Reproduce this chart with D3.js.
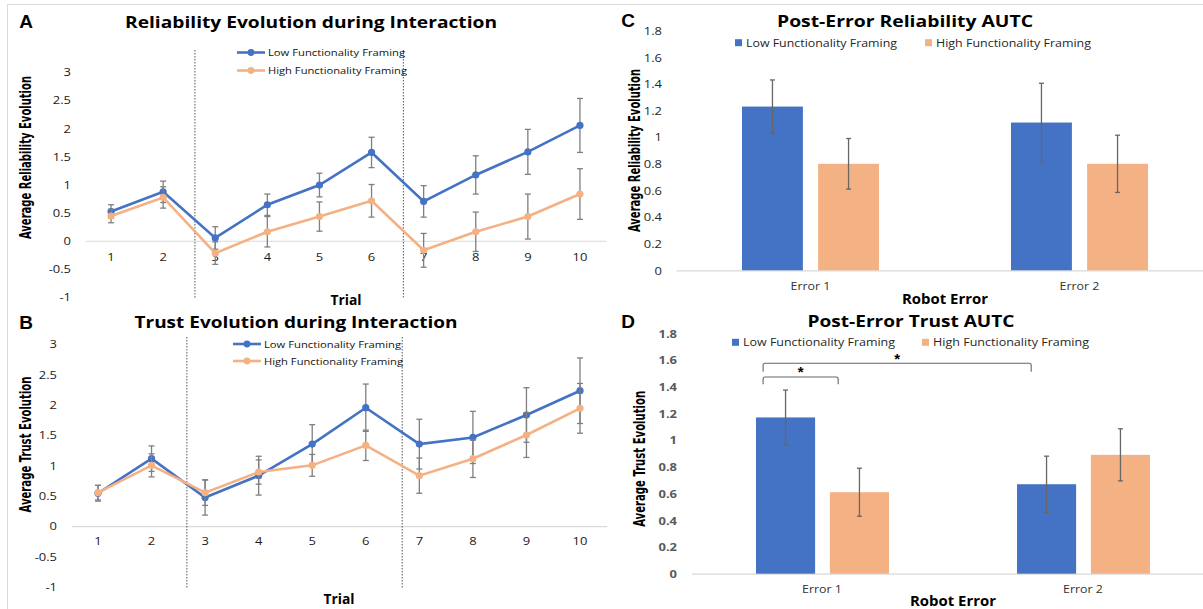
<!DOCTYPE html>
<html>
<head>
<meta charset="utf-8">
<script src="https://cdn.jsdelivr.net/npm/d3@7"></script>
<style>
  html, body { margin: 0; padding: 0; background: #fff; }
  svg { display: block; }
</style>
</head>
<body>
<svg id="chart" width="1203" height="609"></svg>
<script>
// ---------------- DATA ----------------
const trials = [1, 2, 3, 4, 5, 6, 7, 8, 9, 10];
const seriesNames = ["Low Functionality Framing", "High Functionality Framing"];
const lineTicks = [-1, -0.5, 0, 0.5, 1, 1.5, 2, 2.5, 3];
const barTicks = [0, 0.2, 0.4, 0.6, 0.8, 1, 1.2, 1.4, 1.6, 1.8];

// Panel A: reliability evolution
const relLow     = [0.52, 0.87, 0.05, 0.64, 0.99, 1.57, 0.70, 1.17, 1.58, 2.05];
const relLowErr  = [0.12, 0.19, 0.20, 0.19, 0.21, 0.27, 0.28, 0.34, 0.40, 0.48];
const relHigh    = [0.44, 0.77, -0.22, 0.16, 0.43, 0.71, -0.17, 0.16, 0.43, 0.83];
const relHighErr = [0.12, 0.19, 0.20, 0.27, 0.26, 0.29, 0.30, 0.35, 0.40, 0.45];
const relDividers = [2.61, 6.61];

// Panel B: trust evolution
const trustLow     = [0.54, 1.11, 0.47, 0.83, 1.35, 1.95, 1.35, 1.46, 1.83, 2.23];
const trustLowErr  = [0.13, 0.21, 0.29, 0.32, 0.32, 0.39, 0.41, 0.43, 0.45, 0.54];
const trustHigh    = [0.55, 1.00, 0.55, 0.89, 1.00, 1.33, 0.83, 1.11, 1.50, 1.94];
const trustHighErr = [0.12, 0.19, 0.21, 0.20, 0.18, 0.25, 0.29, 0.31, 0.37, 0.41];
const trustDividers = [2.66, 6.68];

// Panels C & D: post-error AUTC
const robotErrors = ["Error 1", "Error 2"];
const relAutcLow      = [1.23, 1.11];
const relAutcLowErr   = [0.20, 0.295];
const relAutcHigh     = [0.80, 0.80];
const relAutcHighErr  = [0.19, 0.215];
const trustAutcLow     = [1.17, 0.67];
const trustAutcLowErr  = [0.205, 0.21];
const trustAutcHigh    = [0.61, 0.89];
const trustAutcHighErr = [0.18, 0.195];
// significance brackets (panel D)
const sigBrackets = [
  { from: ["Error 1", 0], to: ["Error 1", 1], top: 1.473, leg: 1.419, label: "*" },
  { from: ["Error 1", 0], to: ["Error 2", 0], top: 1.576, leg: 1.513, label: "*" }
];

// ---------------- STYLE ----------------
const BLUE = "#4472C4", ORANGE = "#F4B183", ERR = "#7f7f7f", GRID = "#d9d9d9";
const FONT = "'Open Sans', 'Noto Sans', sans-serif";
const NARROW = "'Liberation Sans Narrow', 'DejaVu Sans Condensed', 'Liberation Sans', sans-serif";
const svg = d3.select("#chart");

// panel frame lines
svg.append("line").attr("x1", 7).attr("x2", 1203).attr("y1", 4.5).attr("y2", 4.5)
  .attr("stroke", GRID).attr("stroke-width", 1);
svg.append("line").attr("x1", 7.5).attr("x2", 7.5).attr("y1", 4.5).attr("y2", 609)
  .attr("stroke", GRID).attr("stroke-width", 1);

function text(g, x, y, str, opt) {
  const t = g.append("text").attr("x", x).attr("y", y).text(str)
    .attr("font-family", opt.family || FONT)
    .attr("font-size", opt.size)
    .attr("font-weight", opt.weight || "normal")
    .attr("fill", opt.fill || "#000")
    .attr("text-anchor", opt.anchor || "middle")
    .attr("dominant-baseline", "central");
  if (opt.len) t.attr("textLength", opt.len).attr("lengthAdjust", "spacingAndGlyphs");
  if (opt.rotate) t.attr("transform", `rotate(-90,${x},${y})`);
  return t;
}

// ---------------- LINE PANELS ----------------
function linePanel(cfg) {
  const g = svg.append("g");
  const x = d3.scaleBand().domain(trials).range(cfg.xRange).padding(0);
  const cx = d => x(d) + x.bandwidth() / 2;
  const xl = d3.scaleLinear().domain([1, 10]).range([cx(1), cx(10)]);
  const y = d3.scaleLinear().domain([-1, 3]).range(cfg.yRange);

  // y axis labels
  const ya = g.append("g").attr("transform", `translate(${cfg.yLabelX},0)`)
    .call(d3.axisLeft(y).tickValues(lineTicks).tickSize(0).tickPadding(0).tickFormat(d => String(d)));
  ya.select(".domain").remove();
  ya.selectAll("text").attr("font-family", FONT).attr("font-size", 10.8).attr("fill", "#1a1a1a")
    .attr("dy", "0.35em").attr("transform", "scale(1.2,1)");

  // x axis at zero
  const xa = g.append("g").attr("transform", `translate(0,${y(0)})`)
    .call(d3.axisBottom(x).tickSize(0).tickPadding(0));
  xa.select(".domain").attr("stroke", GRID).attr("stroke-width", 1.2);
  xa.selectAll("text").attr("font-family", FONT).attr("font-size", 10.8).attr("fill", "#1a1a1a")
    .attr("y", cfg.tickOffset).attr("dy", "0.35em").attr("transform", "scale(1.2,1)");

  // dividers
  g.selectAll("line.div").data(cfg.dividers).enter().append("line")
    .attr("x1", d => xl(d)).attr("x2", d => xl(d))
    .attr("y1", cfg.divY[0]).attr("y2", cfg.divY[1])
    .attr("stroke", "#555").attr("stroke-width", 1).attr("stroke-dasharray", "1.5,1.5");

  const series = [
    { vals: cfg.low, err: cfg.lowErr, color: BLUE },
    { vals: cfg.high, err: cfg.highErr, color: ORANGE }
  ];
  series.forEach(s => {
    const pts = trials.map((t, i) => ({ t, v: s.vals[i], e: s.err[i] }));
    const eg = g.append("g");
    eg.selectAll("line.v").data(pts).enter().append("line")
      .attr("x1", d => cx(d.t)).attr("x2", d => cx(d.t))
      .attr("y1", d => y(d.v - d.e)).attr("y2", d => y(d.v + d.e))
      .attr("stroke", ERR).attr("stroke-width", 1.3);
    ["-", "+"].forEach(sg => {
      eg.selectAll("line.c" + (sg === "+" ? "p" : "m")).data(pts).enter().append("line")
        .attr("x1", d => cx(d.t) - 3).attr("x2", d => cx(d.t) + 3)
        .attr("y1", d => y(sg === "+" ? d.v + d.e : d.v - d.e))
        .attr("y2", d => y(sg === "+" ? d.v + d.e : d.v - d.e))
        .attr("stroke", ERR).attr("stroke-width", 1.3);
    });
    g.append("path").datum(pts)
      .attr("d", d3.line().x(d => cx(d.t)).y(d => y(d.v)))
      .attr("fill", "none").attr("stroke", s.color).attr("stroke-width", 2.6);
    g.selectAll(null).data(pts).enter().append("circle")
      .attr("cx", d => cx(d.t)).attr("cy", d => y(d.v)).attr("r", 3.6).attr("fill", s.color);
  });

  // legend
  const lg = g.append("g");
  [BLUE, ORANGE].forEach((c, i) => {
    const ly = cfg.legend.y[i];
    lg.append("line").attr("x1", cfg.legend.x).attr("x2", cfg.legend.x + 28)
      .attr("y1", ly).attr("y2", ly).attr("stroke", c).attr("stroke-width", 2.6);
    lg.append("circle").attr("cx", cfg.legend.x + 14).attr("cy", ly).attr("r", 3.4).attr("fill", c);
    text(lg, cfg.legend.x + 31, ly, seriesNames[i], { size: 9.8, anchor: "start", fill: "#111", len: cfg.legend.len[i] });
  });

  // titles
  text(g, cfg.letter[0], cfg.letter[1], cfg.letterText, { size: 19, weight: "bold", family: "'Liberation Sans', Arial, sans-serif" });
  text(g, cfg.title.x, cfg.title.y, cfg.title.text, { size: 16.5, weight: "bold", len: cfg.title.len });
  text(g, cfg.ytitle.x, cfg.ytitle.y, cfg.ytitle.text, { size: 16, weight: "bold", family: NARROW, rotate: true, len: cfg.ytitle.len });
  text(g, cfg.xtitle.x, cfg.xtitle.y, "Trial", { size: 15, weight: "bold", len: 31 });
}

linePanel({
  xRange: [85, 606], yRange: [297, 72], yLabelX: 71, tickOffset: 16,
  dividers: relDividers, divY: [50, 299],
  low: relLow, lowErr: relLowErr, high: relHigh, highErr: relHighErr,
  legend: { x: 237, y: [52.5, 70.5], len: [137, 139] },
  letter: [26, 21], letterText: "A",
  title: { x: 311, y: 21, text: "Reliability Evolution during Interaction", len: 372 },
  ytitle: { x: 25, y: 157.5, text: "Average Reliability Evolution", len: 163 },
  xtitle: { x: 346, y: 299 }
});

linePanel({
  xRange: [71.2, 606.8], yRange: [586.7, 344], yLabelX: 57, tickOffset: 15.5,
  dividers: trustDividers, divY: [337, 588],
  low: trustLow, lowErr: trustLowErr, high: trustHigh, highErr: trustHighErr,
  legend: { x: 233, y: [344, 361], len: [137, 139] },
  letter: [26, 322], letterText: "B",
  title: { x: 296, y: 321, text: "Trust Evolution during Interaction", len: 323 },
  ytitle: { x: 25, y: 444.5, text: "Average Trust Evolution", len: 136 },
  xtitle: { x: 339, y: 597.5 }
});

// ---------------- BAR PANELS ----------------
function barPanel(cfg) {
  const g = svg.append("g");
  const x0 = d3.scaleBand().domain(robotErrors).range(cfg.xRange).padding(0);
  const x1 = d3.scaleBand().domain([0, 1]).range(cfg.innerRange).paddingInner(cfg.innerPad).paddingOuter(0);
  const y = d3.scaleLinear().domain([0, 1.8]).range(cfg.yRange);
  const gc = d => x0(d) + x0.bandwidth() / 2;

  const ya = g.append("g").attr("transform", `translate(${cfg.yLabelX},0)`)
    .call(d3.axisLeft(y).tickValues(barTicks).tickSize(0).tickPadding(0).tickFormat(d => String(+d.toFixed(1))));
  ya.select(".domain").remove();
  ya.selectAll("text").attr("font-family", FONT).attr("font-size", cfg.tickSize)
    .attr("font-weight", cfg.tickWeight).attr("fill", cfg.tickFill).attr("dy", "0.35em")
    .attr("transform", "scale(1.2,1)");

  const xa = g.append("g").attr("transform", `translate(0,${y(0)})`)
    .call(d3.axisBottom(x0).tickSize(0).tickPadding(0));
  xa.select(".domain").attr("stroke", GRID).attr("stroke-width", 1.2);
  xa.selectAll("text").attr("font-family", FONT).attr("font-size", 10.8).attr("fill", "#333")
    .attr("y", cfg.tickOffset).attr("dy", "0.35em").attr("transform", "scale(1.15,1)");

  const data = [];
  robotErrors.forEach((e, i) => {
    data.push({ e, s: 0, v: cfg.low[i], err: cfg.lowErr[i] });
    data.push({ e, s: 1, v: cfg.high[i], err: cfg.highErr[i] });
  });
  const bx = d => gc(d.e) + x1(d.s);
  g.selectAll("rect.bar").data(data).enter().append("rect")
    .attr("x", bx).attr("width", x1.bandwidth())
    .attr("y", d => y(d.v)).attr("height", d => y(0) - y(d.v))
    .attr("fill", d => d.s === 0 ? BLUE : ORANGE);
  const mid = d => bx(d) + x1.bandwidth() / 2;
  g.selectAll("line.ev").data(data).enter().append("line")
    .attr("x1", mid).attr("x2", mid)
    .attr("y1", d => y(d.v - d.err)).attr("y2", d => y(d.v + d.err))
    .attr("stroke", "#666").attr("stroke-width", 1.3);
  [1, -1].forEach(sg => {
    g.selectAll(null).data(data).enter().append("line")
      .attr("x1", d => mid(d) - 2.5).attr("x2", d => mid(d) + 2.5)
      .attr("y1", d => y(d.v + sg * d.err)).attr("y2", d => y(d.v + sg * d.err))
      .attr("stroke", "#666").attr("stroke-width", 1.3);
  });

  // legend
  [BLUE, ORANGE].forEach((c, i) => {
    const lx = cfg.legend.x[i];
    g.append("rect").attr("x", lx).attr("y", cfg.legend.y - 3.5).attr("width", 7).attr("height", 7).attr("fill", c);
    text(g, lx + 11, cfg.legend.y, seriesNames[i], { size: 10.5, anchor: "start", fill: "#262626", len: cfg.legend.len[i] });
  });

  // significance
  if (cfg.sig) {
    cfg.sig.forEach(s => {
      const xa_ = gc(s.from[0]) + x1(s.from[1]) + x1.bandwidth() * 0.12;
      const xb_ = gc(s.to[0]) + x1(s.to[1]) + x1.bandwidth() * (s.to[0] === s.from[0] ? 0.14 : 0.24);
      const yt = y(s.top), yl = y(s.leg), r = 2;
      g.append("path")
        .attr("d", `M${xa_},${yl} L${xa_},${yt + r} Q${xa_},${yt} ${xa_ + r},${yt} L${xb_ - r},${yt} Q${xb_},${yt} ${xb_},${yt + r} L${xb_},${yl}`)
        .attr("fill", "none").attr("stroke", "#666").attr("stroke-width", 1.1);
      text(g, (xa_ + xb_) / 2, yt - 5, s.label, { size: 15, weight: "bold", family: "'Liberation Sans', Arial, sans-serif" });
    });
  }

  text(g, cfg.letter[0], cfg.letter[1], cfg.letterText, { size: 19, weight: "bold", family: "'Liberation Sans', Arial, sans-serif" });
  text(g, cfg.title.x, cfg.title.y, cfg.title.text, { size: 16.5, weight: "bold", len: cfg.title.len });
  text(g, cfg.ytitle.x, cfg.ytitle.y, cfg.ytitle.text, { size: 16, weight: "bold", family: NARROW, rotate: true, len: cfg.ytitle.len });
  text(g, cfg.xtitle.x, cfg.xtitle.y, "Robot Error", { size: 15, weight: "bold", len: 86 });
}

barPanel({
  xRange: [676, 1214], innerRange: [-68.5, 68.5], innerPad: 0.2, yRange: [270.3, 30.7],
  yLabelX: 662, tickSize: 10.8, tickWeight: "normal", tickFill: "#262626", tickOffset: 16,
  low: relAutcLow, lowErr: relAutcLowErr, high: relAutcHigh, highErr: relAutcHighErr,
  legend: { x: [735, 925], y: 42.7, len: [151, 155] },
  letter: [628, 20], letterText: "C",
  title: { x: 905, y: 20, text: "Post-Error Reliability AUTC", len: 256 },
  ytitle: { x: 634, y: 150.5, text: "Average Reliability Evolution", len: 163 },
  xtitle: { x: 945, y: 297.5 }
});

barPanel({
  xRange: [691.5, 1213.5], innerRange: [-66, 67], innerPad: 0.2, yRange: [573.7, 333.3],
  yLabelX: 677, tickSize: 10.8, tickWeight: "bold", tickFill: "#595959", tickOffset: 15.5,
  low: trustAutcLow, lowErr: trustAutcLowErr, high: trustAutcHigh, highErr: trustAutcHighErr,
  legend: { x: [732, 922], y: 342.3, len: [152, 156] },
  letter: [628, 321], letterText: "D",
  title: { x: 911, y: 320.7, text: "Post-Error Trust AUTC", len: 207 },
  ytitle: { x: 639.5, y: 458.8, text: "Average Trust Evolution", len: 136 },
  xtitle: { x: 953, y: 600 },
  sig: sigBrackets
});
</script>
</body>
</html>
